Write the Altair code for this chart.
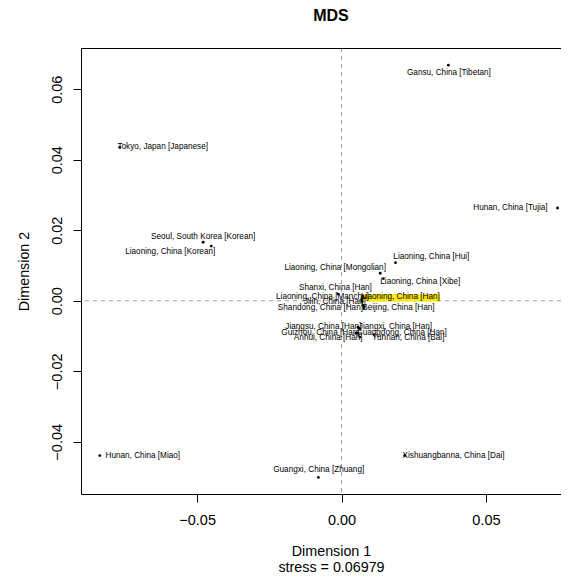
import altair as alt
import pandas as pd

names = [
    "Gansu, China [Tibetan]", "Tokyo, Japan [Japanese]", "Seoul, South Korea [Korean]",
    "Liaoning, China [Korean]", "Hunan, China [Tujia]", "Liaoning, China [Hui]",
    "Liaoning, China [Mongolian]", "Liaoning, China [Xibe]", "Shanxi, China [Han]",
    "Liaoning, China [Manchu]", "Liaoning, China [Han]", "Jilin, China [Han]",
    "Shandong, China [Han]", "Beijing, China [Han]", "Jiangsu, China [Han]",
    "Jiangxi, China [Han]", "Guizhou, China [Han]", "Guangdong, China [Han]",
    "Anhui, China [Han]", "Yunnan, China [Bai]", "Hunan, China [Miao]",
    "Guangxi, China [Zhuang]", "Xishuangbanna, China [Dai]",
]
dim1 = [0.0370, -0.0768, -0.0479, -0.0451, 0.0748, 0.0187, 0.0134, 0.0145, -0.0012,
        0.0071, 0.0074, 0.0071, 0.0074, 0.0078, 0.0057, 0.0061, 0.0050, 0.0057,
        0.0064, 0.0113, -0.0837, -0.0080, 0.0219]
dim2 = [0.0668, 0.0435, 0.0166, 0.0155, 0.0263, 0.0108, 0.0078, 0.0063, 0.0019,
        0.0006, 0.0012, -0.0002, -0.0013, -0.0019, -0.0075, -0.0078, -0.0092, -0.0092,
        -0.0103, -0.0096, -0.0439, -0.0501, -0.0439]
label_x = [0.0372, -0.0619, -0.0479, -0.0593, 0.0585, 0.0311, -0.0022, 0.0273, -0.0021,
           -0.0066, 0.0204, -0.0023, -0.0073, 0.0197, -0.0063, 0.0187, -0.0073, 0.0208,
           -0.0046, 0.0231, -0.0688, -0.0079, 0.0388]
label_y = [0.0645, 0.0435, 0.0181, 0.0139, 0.0263, 0.0125, 0.0092, 0.0054, 0.0035,
           0.0012, 0.0012, -0.0003, -0.0020, -0.0020, -0.0075, -0.0075, -0.0091, -0.0091,
           -0.0106, -0.0106, -0.0439, -0.0479, -0.0439]

highlight_x = [0.0067, 0.0341]
highlight_y = [0.00195, -0.0002]

x_ticks = [-0.05, 0.0, 0.05]
y_ticks = [-0.04, -0.02, 0.0, 0.02, 0.04, 0.06]
x_domain = [-0.0902, 0.0760]
y_domain = [-0.0548, 0.07168]

FONT = "Liberation Sans"
W, H = 480, 446

df = pd.DataFrame({"name": names, "d1": dim1, "d2": dim2, "lx": label_x, "ly": label_y})
hl = pd.DataFrame({"x": [highlight_x[0]], "x2": [highlight_x[1]],
                   "y": [highlight_y[0]], "y2": [highlight_y[1]]})
zero = pd.DataFrame({"v": [0.0]})

xs = alt.Scale(domain=x_domain, nice=False, zero=False)
ys = alt.Scale(domain=y_domain, nice=False, zero=False)

x_axis = alt.Axis(
    values=x_ticks, format=".2f", title=["Dimension 1", "stress = 0.06979"],
    grid=False, domainColor="black", tickColor="black", tickSize=8,
    labelFontSize=14.5, labelFont=FONT, labelColor="black", labelPadding=22,
    labelBaseline="alphabetic", titleFont=FONT, titleFontSize=14.3,
    titleFontWeight="normal", titleColor="black", titleBaseline="alphabetic",
    titleLineHeight=16.5, titleX=250, titleY=61, titleAnchor="start", titleAlign="center",
    labelFlush=False,
)
y_axis = alt.Axis(
    values=y_ticks, format=".2f", title="Dimension 2", grid=False,
    domainColor="black", tickColor="black", tickSize=8,
    labelFontSize=14.5, labelFont=FONT, labelColor="black", labelAngle=270,
    labelAlign="center", labelBaseline="alphabetic", labelPadding=12,
    titleFont=FONT, titleFontSize=14.3, titleFontWeight="normal", titleColor="black",
    titleAngle=270, titleBaseline="alphabetic", titleAlign="center",
    titleX=-53, titleY=H / 2, labelFlush=False,
)

base = alt.Chart(df)

vline = alt.Chart(zero).mark_rule(color="#a0a0a0", strokeDash=[4, 4], strokeWidth=1).encode(
    x=alt.X("v:Q", scale=xs, axis=x_axis))
hline = alt.Chart(zero).mark_rule(color="#a0a0a0", strokeDash=[4, 4], strokeWidth=1).encode(
    y=alt.Y("v:Q", scale=ys, axis=y_axis))

highlight = alt.Chart(hl).mark_rect(color="#FCE80C").encode(
    x=alt.X("x:Q", scale=xs), x2="x2:Q",
    y=alt.Y("y:Q", scale=ys), y2="y2:Q")

dots = base.mark_circle(color="black", size=8, opacity=1).encode(
    x=alt.X("d1:Q", scale=xs), y=alt.Y("d2:Q", scale=ys))

labels = base.mark_text(font=FONT, fontSize=8.2, color="black", align="center",
                        baseline="middle").encode(
    x=alt.X("lx:Q", scale=xs), y=alt.Y("ly:Q", scale=ys),
    text="name:N")

top_border = alt.Chart(zero).mark_rule(color="black", strokeWidth=1).encode(
    y=alt.value(0.5))

title = alt.Chart(zero).mark_text(font=FONT, fontSize=16, fontWeight="bold",
                                  color="black", align="center",
                                  baseline="alphabetic").encode(
    x=alt.value(250), y=alt.value(-27), text=alt.value("MDS"))

chart = alt.layer(vline, hline, highlight, dots, labels, top_border, title).properties(
    width=W, height=H,
    autosize=alt.AutoSizeParams(type="none"),
    padding={"left": 73, "top": 40, "right": 0, "bottom": 80},
).configure_view(stroke=None).configure(background="white")

chart.save("out.html", embed_options={"renderer": "svg", "actions": False})
